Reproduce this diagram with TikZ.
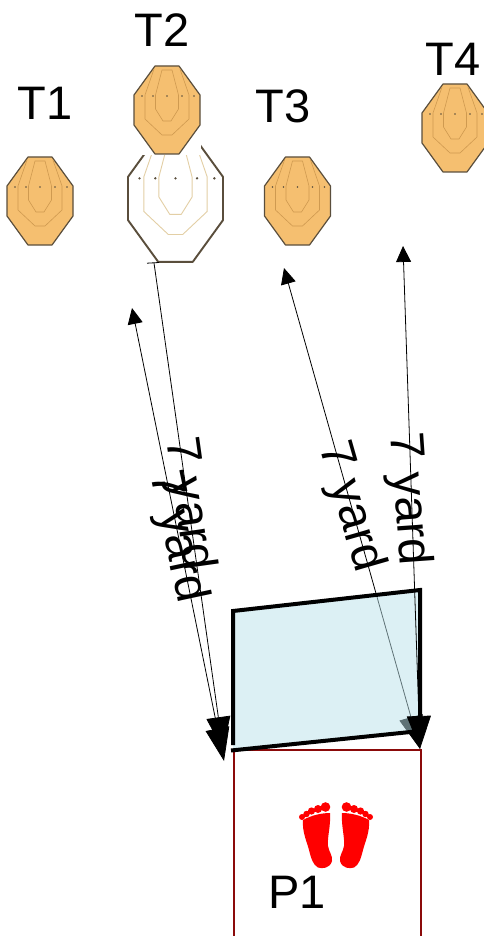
\documentclass[tikz,border=0pt]{standalone}
\usepackage{fontspec}
\setmainfont{Liberation Sans}
\usetikzlibrary{arrows.meta}
\definecolor{tfill}{HTML}{F5BF70}
\definecolor{tring}{HTML}{CF9A50}
\definecolor{tedge}{HTML}{5A4E3C}
\definecolor{ghost}{HTML}{E3CFA5}
\definecolor{padred}{HTML}{8B0A0A}
\definecolor{boxfill}{RGB}{186,225,233}
\tikzset{
  x=1pt,y=-1pt,
  lbl/.style={inner sep=0pt,font=\fontsize{47}{47}\selectfont},
  yardlbl/.style={inner sep=0pt,font=\fontsize{48}{48}\selectfont},
  dimarrow/.style={draw=black,line width=0.8pt,-{Triangle[length=33pt,width=24pt]}},
  dimboth/.style={draw=black,line width=0.8pt,{Triangle[length=16pt,width=15pt]}-{Triangle[length=33pt,width=24pt]}},
  thickedge/.style={line width=4pt,draw=black},
  pics/octarget/.style n args={6}{code={
    \path[fill=#1,draw=#2,line width=#5,line join=round] (-12,-44)--(12,-44)--(33,-15)--(33,15)--(12,44)--(-12,44)--(-33,15)--(-33,-15)--cycle;
    \draw[#3,line width=#6,line join=round] (-13,-41)--(-22,-15)--(-22,9)--(-5,25)--(5,25)--(22,9)--(22,-15)--(13,-41);
    \draw[#3,line width=#6,line join=round] (-5,-40)--(5,-40)--(11.5,-15)--(11.5,-1)--(4,11)--(-4,11)--(-11.5,-1)--(-11.5,-15)--cycle;
    \foreach \dx in {-25,-14,0,15,27}{\fill[#4] (\dx,-14) circle (0.9);}
  }}
}
\begin{document}
\begin{tikzpicture}
\useasboundingbox (0,0) rectangle (483,936);
% targets
\pic at (175.5,198.5) [scale=1.44] {octarget={white}{tedge}{ghost}{tedge}{1.9pt}{0.9pt}};
\fill[white] (133,60) rectangle (201,155);
\pic at (40,201) {octarget={tfill}{tedge}{tring}{tedge}{1.2pt}{0.6pt}};
\pic at (167,110) {octarget={tfill}{tedge}{tring}{tedge}{1.2pt}{0.6pt}};
\pic at (297.5,201) {octarget={tfill}{tedge}{tring}{tedge}{1.2pt}{0.6pt}};
\pic at (455,128) {octarget={tfill}{tedge}{tring}{tedge}{1.2pt}{0.6pt}};
% labels
\node[lbl] (t1) at (45,103) {T1};
\node[lbl] (t2) at (162,30) {T2};
\node[lbl] (t3) at (283,106) {T3};
\node[lbl] (t4) at (453,59) {T4};
% player box
\coordinate (padTL) at (234,750);
\coordinate (padTR) at (421,750);
\coordinate (padBL) at (234,940);
\coordinate (padBR) at (421,940);
\draw[padred,line width=1.6pt] (padBL)--(padTL)--(padTR)--(padBR);
% feet
\foreach \mir/\ax in {1/0,-1/672}{
\begin{scope}[xshift=\ax pt,xscale=\mir]
  \fill[red] (303,820) .. controls (312,815) and (322,813) .. (330,813)
    .. controls (331,825) and (327,838) .. (328,846)
    .. controls (329,852) and (333,856) .. (332,861)
    .. controls (330,868.5) and (322,869) .. (318,867.5)
    .. controls (313,865) and (311,858) .. (309,850)
    .. controls (307,842) and (302,832) .. (303,820) -- cycle;
  \fill[red] (302,817) circle (3) (306.5,814) circle (3.2) (311.5,811) circle (3.6) (318,809) circle (4) (325.5,807) circle (4.8);
\end{scope}}
\node[lbl] (p1) at (297,892) {P1};
% connectors
\coordinate (a1s) at (132,308);
\coordinate (a2s) at (154,263);
\coordinate (a3s) at (284,268);
\coordinate (a4s) at (403,246);
\coordinate (leftA) at (224,761);
\coordinate (leftB) at (223,750);
\coordinate (rightTip) at (420,749);
\draw[black,line width=0.8pt] (147,263.2)--(159,262.5);
\draw[dimboth] (a1s)--(leftA);
\draw[dimarrow] (a2s)--(leftB);
\draw[dimboth] (a3s)--(rightTip);
% box
\coordinate (q1) at (233,611);
\coordinate (q2) at (420,590);
\coordinate (q3) at (420,731);
\coordinate (q4) at (233,750);
\fill[boxfill,fill opacity=0.51] (q1)--(q2)--(q3)--(q4)--cycle;
\draw[thickedge] (233,745)--(q1)--(q2)--(q3);
\draw[thickedge] (231,750.5)--(q3);
\draw[dimboth] (a4s)--(rightTip);
% yard labels
\node[yardlbl,rotate=-82] (y1) at (188,504) {7 yard};
\node[yardlbl,rotate=-78] (y2) at (177,537) {7 yard};
\node[yardlbl,rotate=-74] (y3) at (350,507) {7 yard};
\node[yardlbl,rotate=-86] (y4) at (408,499) {7 yard};
\end{tikzpicture}
\end{document}
